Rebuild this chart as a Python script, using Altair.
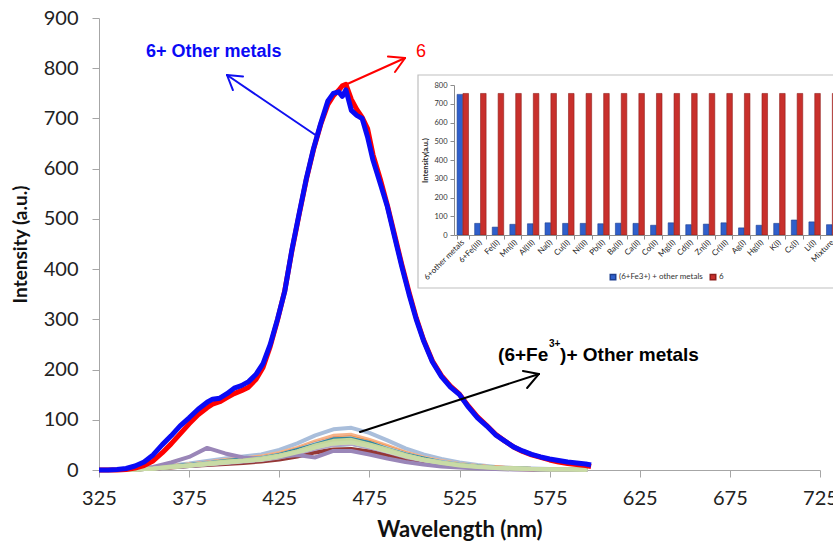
import altair as alt
import pandas as pd

# ---------------- emission spectra ----------------
# compound 6 + other metals (blue) and compound 6 alone (red)
wl_main = [325, 330, 335, 340, 345, 350, 355, 360, 365, 370,
           375, 380, 385, 388, 392, 396, 400, 404, 408, 412,
           416, 420, 424, 428, 432, 436, 440, 444, 448, 452,
           455, 458, 460, 462, 465, 468, 471, 474, 477, 481,
           485, 489, 493, 497, 501, 505, 510, 515, 520, 525,
           530, 535, 540, 545, 550, 555, 560, 565, 570, 575,
           580, 585, 590, 595, 598]
int_blue = [0, 0, 1, 3, 8, 16, 30, 50, 68, 88,
            104, 121, 135, 141, 143, 152, 163, 168, 176, 190,
            212, 250, 300, 355, 438, 510, 580, 640, 690, 735,
            750, 753, 744, 757, 716, 706, 700, 663, 617, 571,
            524, 464, 405, 350, 300, 258, 215, 186, 165, 150,
            125, 104, 88, 70, 58, 46, 38, 31, 26, 22,
            19, 16, 14, 12, 10]
int_red = [0, 0, 0, 1, 4, 9, 18, 34, 52, 72,
           92, 110, 124, 131, 136, 144, 152, 158, 165, 180,
           204, 246, 298, 356, 436, 508, 578, 638, 688, 728,
           745, 756, 765, 768, 738, 718, 702, 680, 628, 580,
           527, 468, 409, 354, 303, 260, 217, 188, 167, 151,
           127, 106, 89, 71, 58, 46, 37, 30, 25, 20,
           16, 13, 11, 9, 7]

# (6+Fe3+) + individual metal ions
wl_low = [335, 345, 355, 365, 375, 385, 395, 405, 415, 425, 435, 445, 455, 465,
          475, 485, 495, 505, 515, 525, 535, 545, 555, 565, 575, 585, 595]
low_order = ["Cs(I)", "Li(I)", "Na(I)", "Ca(II)", "Ni(II)", "Mg(II)", "Cr(III)",
             "Al(III)", "K(I)", "Ba(II)", "6+Fe(III)", "Cu(II)", "Co(II)", "Fe(II)",
             "Zn(II)", "Hg(II)", "Mn(II)", "Cd(II)", "Ag(I)", "Pb(II)", "Mixture"]
low_values = {
    "6+Fe(III)": [0, 1, 4, 7, 10, 14, 17, 20, 24, 30, 39, 51, 60, 62, 53, 42, 31, 22, 16, 11, 7, 4, 3, 2, 1, 1, 1],
    "Fe(II)":    [0, 1, 3, 5, 8, 10, 12, 14, 17, 21, 27, 35, 41, 42, 37, 29, 22, 15, 11, 7, 5, 3, 2, 1, 1, 0, 0],
    "Mn(II)":    [0, 1, 3, 6, 9, 12, 16, 19, 22, 28, 36, 46, 55, 57, 50, 39, 28, 21, 14, 10, 6, 4, 3, 2, 1, 1, 1],
    "Al(III)":   [0, 1, 4, 7, 10, 13, 17, 20, 23, 29, 38, 49, 58, 60, 51, 41, 30, 22, 15, 10, 7, 4, 3, 2, 1, 1, 1],
    "Na(I)":     [0, 1, 4, 7, 11, 14, 18, 21, 25, 31, 41, 53, 63, 65, 56, 44, 33, 24, 16, 11, 7, 5, 3, 2, 1, 1, 1],
    "Cu(II)":    [0, 2, 4, 7, 10, 13, 18, 21, 23, 30, 40, 50, 61, 62, 54, 41, 31, 23, 15, 10, 7, 4, 3, 2, 1, 0, 0],
    "Ni(II)":    [0, 1, 3, 6, 10, 14, 17, 20, 24, 29, 39, 51, 59, 62, 53, 43, 31, 22, 16, 11, 6, 4, 3, 2, 1, 1, 0],
    "Pb(II)":    [0, 1, 3, 7, 9, 13, 17, 19, 23, 29, 37, 49, 58, 60, 51, 41, 30, 21, 15, 10, 7, 4, 3, 2, 1, 1, 1],
    "Ba(II)":    [0, 1, 4, 7, 10, 14, 18, 21, 24, 30, 40, 52, 61, 63, 54, 43, 32, 23, 16, 11, 7, 4, 3, 2, 1, 1, 1],
    "Ca(II)":    [0, 1, 4, 6, 10, 14, 17, 21, 24, 29, 39, 50, 60, 62, 54, 42, 31, 22, 15, 11, 7, 4, 3, 2, 1, 1, 0],
    "Co(II)":    [0, 1, 3, 6, 8, 11, 15, 17, 20, 25, 33, 43, 50, 52, 45, 35, 26, 19, 13, 9, 6, 4, 3, 2, 1, 1, 0],
    "Mg(II)":    [0, 1, 4, 7, 10, 15, 18, 21, 25, 31, 41, 53, 63, 65, 55, 44, 33, 23, 16, 11, 7, 5, 3, 2, 1, 1, 1],
    "Cd(II)":    [0, 1, 3, 6, 9, 12, 15, 18, 21, 26, 35, 45, 53, 55, 47, 37, 28, 20, 14, 9, 6, 4, 3, 2, 1, 1, 0],
    "Zn(II)":    [0, 1, 3, 6, 9, 13, 16, 19, 22, 28, 37, 48, 56, 58, 50, 39, 29, 21, 15, 10, 6, 4, 3, 2, 1, 1, 1],
    "Cr(III)":   [0, 1, 4, 7, 10, 14, 18, 22, 25, 31, 41, 53, 62, 65, 56, 45, 33, 23, 16, 11, 7, 5, 3, 2, 1, 1, 1],
    "Ag(I)":     [0, 2, 6, 15, 26, 44, 33, 25, 22, 26, 30, 25, 38, 38, 31, 23, 16, 11, 7, 5, 3, 2, 1, 1, 0, 0, 0],
    "Hg(II)":    [0, 1, 3, 6, 8, 11, 14, 17, 20, 25, 33, 42, 50, 52, 45, 36, 26, 19, 13, 9, 6, 4, 2, 2, 1, 1, 0],
    "K(I)":      [0, 1, 4, 7, 10, 13, 17, 20, 24, 30, 39, 50, 60, 62, 53, 42, 31, 22, 16, 11, 7, 4, 3, 2, 1, 1, 1],
    "Cs(I)":     [0, 2, 5, 9, 13, 18, 23, 27, 31, 40, 53, 69, 81, 84, 74, 59, 43, 31, 22, 15, 10, 6, 4, 3, 2, 1, 1],
    "Li(I)":     [0, 1, 4, 8, 11, 15, 20, 23, 27, 34, 44, 57, 68, 70, 60, 48, 35, 25, 18, 12, 8, 5, 4, 2, 1, 1, 1],
    "Mixture":   [0, 1, 3, 6, 9, 12, 15, 18, 21, 27, 35, 45, 53, 55, 48, 38, 28, 20, 14, 9, 6, 4, 3, 2, 1, 1, 0],
}
low_colors = {
    "Cs(I)": "#A9BEDB", "Li(I)": "#F5B38A", "Na(I)": "#FAC090", "Ca(II)": "#FCD5B5",
    "Ni(II)": "#E6B9B8", "Mg(II)": "#D99694", "Cr(III)": "#F79646", "Al(III)": "#F9B27A",
    "K(I)": "#93CDDD", "Ba(II)": "#B9CDE5", "6+Fe(III)": "#95B3D7", "Cu(II)": "#31859C",
    "Co(II)": "#4BACC6", "Fe(II)": "#953735", "Zn(II)": "#CCC1DA", "Hg(II)": "#B3A2C7",
    "Mn(II)": "#9BBB59", "Cd(II)": "#D7E4BD", "Ag(I)": "#9A86B8", "Pb(II)": "#C3D69B",
    "Mixture": "#C9DBA6",
}

# ---------------- inset: peak intensity per metal ----------------
inset_categories = ["6+other metals", "6+Fe(III)", "Fe(II)", "Mn(II)", "Al(III)", "Na(I)",
                    "Cu(II)", "Ni(II)", "Pb(II)", "Ba(II)", "Ca(II)", "Co(II)", "Mg(II)",
                    "Cd(II)", "Zn(II)", "Cr(III)", "Ag(I)", "Hg(II)", "K(I)", "Cs(I)",
                    "Li(I)", "Mixture"]
inset_blue = [750, 62, 42, 57, 60, 65, 62, 62, 60, 63, 62, 52, 65, 55, 58, 65, 38, 52, 62, 80, 70, 55]
inset_red = [755] * 22
inset_series = ["(6+Fe3+) + other metals", "6"]

# ---------------- annotations (wavelength, intensity) ----------------
arrow_segments = [
    # blue arrow
    (445.9, 665.0, 396.0, 786.5, "#1010F0"),
    (396.0, 786.5, 404.9, 783.5, "#1010F0"),
    (396.0, 786.5, 399.3, 756.6, "#1010F0"),
    # red arrow
    (461.5, 766.6, 494.8, 820.4, "#FF0000"),
    (494.8, 820.4, 485.3, 823.3, "#FF0000"),
    (494.8, 820.4, 489.2, 792.5, "#FF0000"),
    # black arrow
    (469.8, 75.7, 569.1, 191.2, "#000000"),
    (569.1, 191.2, 560.2, 197.1, "#000000"),
    (569.1, 191.2, 562.5, 163.3, "#000000"),
]

# ---------------- tables ----------------
df_blue = pd.DataFrame({"wl": wl_main, "val": int_blue})
df_red = pd.DataFrame({"wl": wl_main, "val": int_red})
df_low = pd.concat([
    pd.DataFrame({"wl": wl_low, "val": low_values[n], "name": n,
                  "color": low_colors[n], "order": i})
    for i, n in enumerate(low_order)
])
df_arrows = pd.DataFrame(arrow_segments, columns=["wl", "val", "wl2", "val2", "c"])
df_bars = pd.concat([
    pd.DataFrame({"category": inset_categories, "value": inset_blue, "series": inset_series[0]}),
    pd.DataFrame({"category": inset_categories, "value": inset_red, "series": inset_series[1]}),
])

FONT = "Lato"
xs = alt.Scale(domain=[325, 725], nice=False, zero=False)
ys = alt.Scale(domain=[0, 900], nice=False)

x_axis = alt.Axis(orient="bottom", title="Wavelength (nm)", values=list(range(325, 726, 50)),
                  grid=False, domainColor="#A6A6A6", tickColor="#A6A6A6", tickSize=7,
                  labelFont=FONT, labelFontSize=20, labelColor="#222222", labelPadding=11,
                  labelFlush=False, labelOverlap=False,
                  titleFont=FONT, titleFontSize=22, titleFontWeight="bold",
                  titleColor="#111111", titlePadding=11)
y_axis = alt.Axis(orient="left", title="Intensity (a.u.)", values=list(range(0, 901, 100)),
                  grid=False, domainColor="#A6A6A6", tickColor="#A6A6A6", tickSize=7,
                  labelFont=FONT, labelFontSize=20, labelColor="#222222", labelPadding=14,
                  labelOverlap=False,
                  titleFont=FONT, titleFontSize=19, titleFontWeight="bold",
                  titleColor="#111111", titlePadding=13)

low_lines = alt.Chart(df_low).mark_line(strokeWidth=4, strokeCap="round", strokeJoin="round").encode(
    x=alt.X("wl:Q", scale=xs, axis=x_axis),
    y=alt.Y("val:Q", scale=ys, axis=y_axis),
    detail="name:N",
    color=alt.Color("color:N", scale=None),
    order="order:Q",
)

red_line = alt.Chart(df_red).mark_line(color="#FF0000", strokeWidth=5, strokeJoin="round").encode(
    x=alt.X("wl:Q", scale=xs, axis=None),
    y=alt.Y("val:Q", scale=ys, axis=None),
)
blue_line = alt.Chart(df_blue).mark_line(color="#0A0AF5", strokeWidth=5, strokeJoin="round").encode(
    x=alt.X("wl:Q", scale=xs, axis=None),
    y=alt.Y("val:Q", scale=ys, axis=None),
)

arrows = alt.Chart(df_arrows).mark_rule(strokeWidth=2, strokeCap="round").encode(
    x=alt.X("wl:Q", scale=xs, axis=None),
    y=alt.Y("val:Q", scale=ys, axis=None),
    x2="wl2:Q",
    y2="val2:Q",
    color=alt.Color("c:N", scale=None),
)


def label(rows, **style):
    df = pd.DataFrame(rows, columns=["wl", "val", "text"])
    return alt.Chart(df).mark_text(align="left", baseline="middle", **style).encode(
        x=alt.X("wl:Q", scale=xs, axis=None),
        y=alt.Y("val:Q", scale=ys, axis=None),
        text="text:N",
    )


text_blue = label([(351.1, 832.3, "6+ Other metals")],
                  font="Liberation Sans", fontSize=18, fontWeight="bold", color="#0A0AF5")
text_red = label([(500.9, 832.3, "6")], font="Liberation Sans", fontSize=18, color="#FF0000")
text_black = label([(546.4, 229.0, "(6+Fe"), (580.8, 229.0, ")+ Other metals")],
                   font="Liberation Sans", fontSize=19, fontWeight="bold", color="#000000")
text_sup = label([(574.6, 251.0, "3+")],
                 font="Liberation Sans", fontSize=10, fontWeight="bold", color="#000000")

# ---------------- inset bar chart ----------------
panel = alt.Chart(pd.DataFrame({"k": [0]})).mark_rect(
    fill="white", stroke="#BFBFBF", strokeWidth=1.2).encode(
    x=alt.value(319), x2=alt.value(745), y=alt.value(57), y2=alt.value(270))

ix_axis = alt.Axis(orient="bottom", offset=-235, title=None, labelAngle=315,
                   labelAlign="right", labelBaseline="middle", labelFont=FONT,
                   labelFontSize=8, labelColor="#222222", labelPadding=2,
                   tickBand="extent", tickSize=4, domainColor="#8C8C8C",
                   tickColor="#8C8C8C", zindex=1, labelOverlap=False)
iy_axis = alt.Axis(orient="left", offset=-355, title="Intensity(a.u.)",
                   values=list(range(0, 801, 100)), grid=False, tickSize=4,
                   labelFont=FONT, labelFontSize=7.5, labelColor="#333333", labelPadding=3,
                   titleFont=FONT, titleFontSize=7.5, titleFontWeight="bold",
                   titleColor="#222222", titlePadding=4,
                   domainColor="#8C8C8C", tickColor="#8C8C8C", zindex=1)

bars = alt.Chart(df_bars).mark_bar(strokeWidth=0.6).encode(
    x=alt.X("category:N", sort=inset_categories,
            scale=alt.Scale(range=[355, 742], paddingInner=0.35, paddingOuter=0.175),
            axis=ix_axis),
    xOffset=alt.XOffset("series:N", sort=inset_series, scale=alt.Scale(paddingInner=0.05)),
    y=alt.Y("value:Q", scale=alt.Scale(domain=[0, 800], range=[217, 67], nice=False),
            axis=iy_axis),
    color=alt.Color("series:N", sort=inset_series,
                    scale=alt.Scale(domain=inset_series, range=["#2F5FCB", "#C8302C"]),
                    legend=alt.Legend(orient="none", legendX=510, legendY=255,
                                      direction="horizontal", title=None,
                                      symbolType="square", symbolSize=30,
                                      labelFont=FONT, labelFontSize=8,
                                      labelColor="#333333", columnPadding=4,
                                      padding=0, labelOffset=2)),
    stroke=alt.Stroke("series:N", sort=inset_series,
                      scale=alt.Scale(domain=inset_series, range=["#1E3F8F", "#8E1E1B"]),
                      legend=None),
)

chart = alt.layer(
    low_lines, red_line, blue_line, arrows,
    text_blue, text_red, text_black, text_sup,
    panel, bars,
).resolve_scale(
    x="independent", y="independent", color="independent", stroke="independent"
).properties(
    width=721, height=452,
    autosize=alt.AutoSizeParams(type="none"),
    padding={"left": 99, "top": 18, "right": 13, "bottom": 74},
    background="white",
).configure_view(stroke=None)

chart.save("out.html", embed_options={"renderer": "svg", "actions": False})
